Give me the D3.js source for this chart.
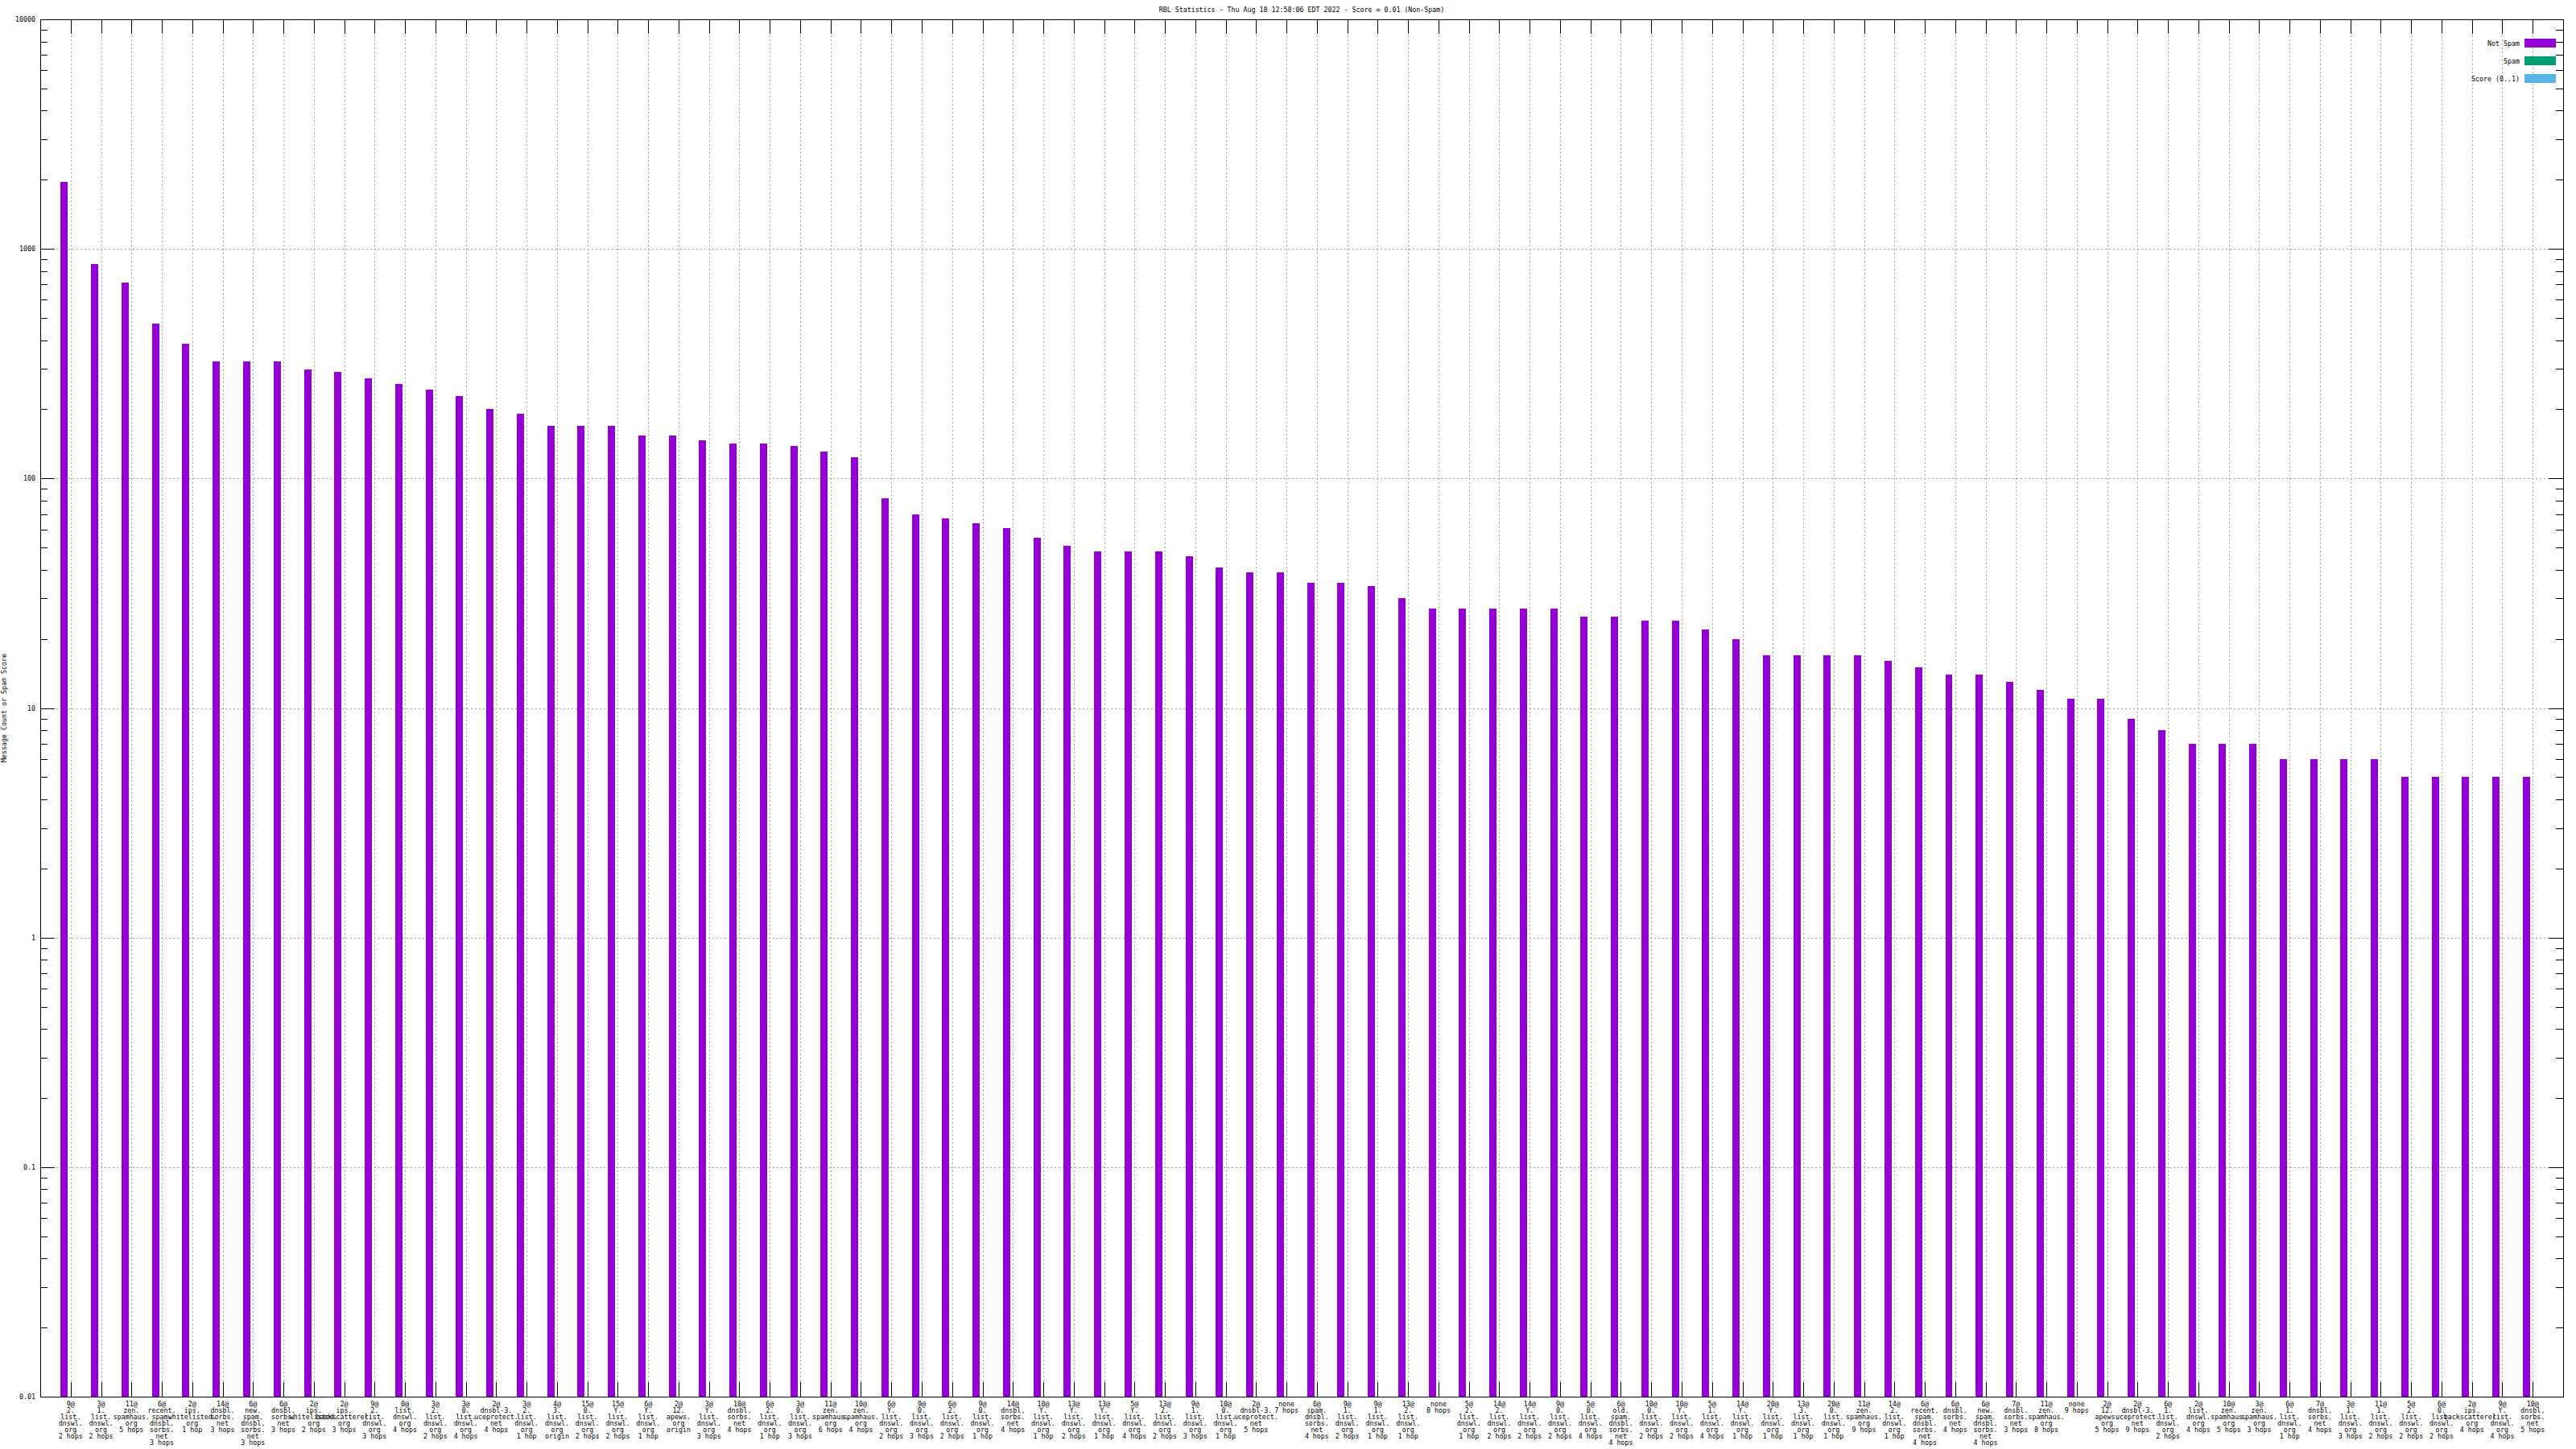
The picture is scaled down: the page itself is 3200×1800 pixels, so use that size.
<!DOCTYPE html>
<html>
<head>
<meta charset="utf-8">
<script src="https://cdn.jsdelivr.net/npm/d3@7"></script>
<style>
  html, body { margin: 0; padding: 0; background: #fff; }
  svg { display: block; }
  text { font-family: "DejaVu Sans Mono", monospace; font-size: 8.3px; fill: #000; }
</style>
</head>
<body>
<svg id="chart" width="3200" height="1800"></svg>
<script>
// ---------------- data ----------------
const title = "RBL Statistics - Thu Aug 18 12:58:06 EDT 2022 - Score = 0.01 (Non-Spam)";
const yAxisTitle = "Message Count or Spam Score";

const categories = [
  "9@2.list.dnswl.org 2 hops", "3@1.list.dnswl.org 2 hops", "11@zen.spamhaus.org 5 hops",
  "6@recent.spam.dnsbl.sorbs.net 3 hops", "2@ips.whitelisted.org 1 hop", "14@dnsbl.sorbs.net 3 hops",
  "6@new.spam.dnsbl.sorbs.net 3 hops", "6@dnsbl.sorbs.net 3 hops", "2@ips.whitelisted.org 2 hops",
  "2@ips.backscatterer.org 3 hops", "9@2.list.dnswl.org 3 hops", "0@list.dnswl.org 4 hops",
  "3@2.list.dnswl.org 2 hops", "3@0.list.dnswl.org 4 hops", "2@dnsbl-3.uceprotect.net 4 hops",
  "3@2.list.dnswl.org 1 hop", "4@3.list.dnswl.org origin", "15@0.list.dnswl.org 2 hops",
  "15@Y.list.dnswl.org 2 hops", "6@Y.list.dnswl.org 1 hop", "2@12.apews.org origin",
  "3@Y.list.dnswl.org 3 hops", "10@dnsbl.sorbs.net 4 hops", "6@2.list.dnswl.org 1 hop",
  "3@0.list.dnswl.org 3 hops", "11@zen.spamhaus.org 6 hops", "10@zen.spamhaus.org 4 hops",
  "6@Y.list.dnswl.org 2 hops", "9@0.list.dnswl.org 3 hops", "6@2.list.dnswl.org 2 hops",
  "9@0.list.dnswl.org 1 hop", "14@dnsbl.sorbs.net 4 hops", "10@Y.list.dnswl.org 1 hop",
  "13@Y.list.dnswl.org 2 hops", "13@Y.list.dnswl.org 1 hop", "5@Y.list.dnswl.org 4 hops",
  "13@2.list.dnswl.org 2 hops", "9@1.list.dnswl.org 3 hops", "10@0.list.dnswl.org 1 hop",
  "2@dnsbl-3.uceprotect.net 5 hops", "none 7 hops", "6@spam.dnsbl.sorbs.net 4 hops",
  "9@1.list.dnswl.org 2 hops", "9@1.list.dnswl.org 1 hop", "13@2.list.dnswl.org 1 hop",
  "none 8 hops", "5@2.list.dnswl.org 1 hop", "14@2.list.dnswl.org 2 hops",
  "14@Y.list.dnswl.org 2 hops", "9@0.list.dnswl.org 2 hops", "5@0.list.dnswl.org 4 hops",
  "6@old.spam.dnsbl.sorbs.net 4 hops", "10@0.list.dnswl.org 2 hops", "10@Y.list.dnswl.org 2 hops",
  "5@1.list.dnswl.org 4 hops", "14@Y.list.dnswl.org 1 hop", "20@Y.list.dnswl.org 1 hop",
  "13@3.list.dnswl.org 1 hop", "20@0.list.dnswl.org 1 hop", "11@zen.spamhaus.org 9 hops",
  "14@2.list.dnswl.org 1 hop", "6@recent.spam.dnsbl.sorbs.net 4 hops", "6@dnsbl.sorbs.net 4 hops",
  "6@new.spam.dnsbl.sorbs.net 4 hops", "7@dnsbl.sorbs.net 3 hops", "11@zen.spamhaus.org 8 hops",
  "none 9 hops", "2@12.apews.org 5 hops", "2@dnsbl-3.uceprotect.net 9 hops",
  "6@1.list.dnswl.org 2 hops", "2@list.dnswl.org 4 hops", "10@zen.spamhaus.org 5 hops",
  "3@zen.spamhaus.org 3 hops", "6@1.list.dnswl.org 1 hop", "7@dnsbl.sorbs.net 4 hops",
  "3@1.list.dnswl.org 3 hops", "11@1.list.dnswl.org 2 hops", "5@2.list.dnswl.org 2 hops",
  "6@0.list.dnswl.org 2 hops", "2@ips.backscatterer.org 4 hops", "9@Y.list.dnswl.org 4 hops",
  "10@dnsbl.sorbs.net 5 hops"
];

const notSpamCounts = [
  1958, 860, 713, 472, 387, 323, 323, 323, 298, 292,
  274, 257, 244, 229, 200, 191, 170, 170, 170, 154,
  154, 147, 142, 142, 139, 131, 124, 82, 70, 67,
  64, 61, 55, 51, 48, 48, 48, 46, 41, 39,
  39, 35, 35, 34, 30, 27, 27, 27, 27, 27,
  25, 25, 24, 24, 22, 20, 17, 17, 17, 17,
  16, 15, 14, 14, 13, 12, 11, 11, 9, 8,
  7, 7, 7, 6, 6, 6, 6, 5, 5, 5,
  5, 5
];

const seriesNames = ["Not Spam", "Spam", "Score (0..1)"];
const seriesColors = ["#9400d3", "#009e73", "#56b4e9"];

const yMajorTicks = [0.01, 0.1, 1, 10, 100, 1000, 10000];
const yTickLabels = ["0.01", "0.1", "1", "10", "100", "1000", "10000"];

// ---------------- layout ----------------
const W = 3200, H = 1800;
const pLeft = 50, pRight = 3184, pTop = 24, pBottom = 1735;

const svg = d3.select("#chart");
svg.append("rect").attr("width", W).attr("height", H).attr("fill", "#fff");

const x = d3.scaleLinear().domain([-1, categories.length]).range([pLeft, pRight]);
const y = d3.scaleLog().domain([0.01, 10000]).range([pBottom, pTop]);

const yMinorTicks = [];
for (let e = -2; e < 4; e++) {
  for (let m = 2; m <= 9; m++) yMinorTicks.push(m * Math.pow(10, e));
}
const idx = d3.range(categories.length);

// ---------------- grid ----------------
const grid = svg.append("g").attr("stroke", "#a0a0a0").attr("stroke-width", 1)
  .attr("stroke-dasharray", "2,3").attr("shape-rendering", "crispEdges");
grid.selectAll("line.v").data(idx).join("line").attr("class", "v")
  .attr("x1", d => Math.round(x(d)) + 0.5).attr("x2", d => Math.round(x(d)) + 0.5)
  .attr("y1", pTop).attr("y2", pBottom);
grid.selectAll("line.h").data(yMajorTicks.slice(1, -1)).join("line").attr("class", "h")
  .attr("x1", pLeft).attr("x2", pRight)
  .attr("y1", d => Math.round(y(d)) + 0.5).attr("y2", d => Math.round(y(d)) + 0.5);

// ---------------- bars ----------------
const barOffset = -0.326, barWidth = 0.238;
svg.append("g").selectAll("rect").data(notSpamCounts).join("rect")
  .attr("x", (d, i) => Math.round(x(i + barOffset)))
  .attr("width", (d, i) => Math.round(x(i + barOffset + barWidth)) - Math.round(x(i + barOffset)))
  .attr("y", d => Math.round(y(d)))
  .attr("height", d => pBottom - Math.round(y(d)))
  .attr("fill", seriesColors[0]);

// ---------------- axes ----------------
function styleAxis(g) {
  g.select(".domain").remove();
  g.selectAll("line").attr("stroke", "#000").attr("shape-rendering", "crispEdges");
  g.attr("font-family", null).attr("font-size", null);
}
const fmt = d => yTickLabels[yMajorTicks.indexOf(d)];
svg.append("g").attr("transform", `translate(${pLeft},0)`)
  .call(d3.axisLeft(y).tickValues(yMajorTicks).tickFormat(fmt).tickSize(-18).tickPadding(6))
  .call(styleAxis);
svg.append("g").attr("transform", `translate(${pLeft},0)`)
  .call(d3.axisLeft(y).tickValues(yMinorTicks).tickFormat("").tickSize(-9))
  .call(styleAxis);
svg.append("g").attr("transform", `translate(${pRight},0)`)
  .call(d3.axisRight(y).tickValues(yMajorTicks).tickFormat("").tickSize(-18))
  .call(styleAxis);
svg.append("g").attr("transform", `translate(${pRight},0)`)
  .call(d3.axisRight(y).tickValues(yMinorTicks).tickFormat("").tickSize(-9))
  .call(styleAxis);
svg.append("g").attr("transform", `translate(0,${pBottom})`)
  .call(d3.axisBottom(x).tickValues(idx).tickFormat("").tickSize(-18))
  .call(styleAxis);
svg.append("g").attr("transform", `translate(0,${pTop})`)
  .call(d3.axisTop(x).tickValues(idx).tickFormat("").tickSize(-18))
  .call(styleAxis);

// border
svg.append("rect").attr("x", pLeft + 0.5).attr("y", pTop + 0.5)
  .attr("width", pRight - pLeft).attr("height", pBottom - pTop)
  .attr("fill", "none").attr("stroke", "#000").attr("stroke-width", 1)
  .attr("shape-rendering", "crispEdges");

// ---------------- x labels (multi-line) ----------------
function splitLabel(s) {
  const sp = s.indexOf(" ");
  const host = s.slice(0, sp), hops = s.slice(sp + 1);
  if (host === "none") return [host, hops];
  const at = host.indexOf("@");
  const lines = [host.slice(0, at + 1)];
  const parts = host.slice(at + 1).split(".");
  parts.forEach((p, k) => lines.push(p + (k < parts.length - 1 ? "." : "")));
  lines.push(hops);
  return lines;
}
const xl = svg.append("g").attr("text-anchor", "middle");
categories.forEach((c, i) => {
  const t = xl.append("text").attr("x", x(i)).attr("y", pBottom + 12);
  splitLabel(c).forEach((ln, k) => {
    t.append("tspan").attr("x", x(i)).attr("y", pBottom + 12 + k * 8).text(ln);
  });
});

// ---------------- titles ----------------
svg.append("text").attr("x", (pLeft + pRight) / 2).attr("y", 15)
  .attr("text-anchor", "middle").text(title);
svg.append("text").attr("transform", `translate(8,${(pTop + pBottom) / 2}) rotate(-90)`)
  .attr("text-anchor", "middle").text(yAxisTitle);

// ---------------- legend ----------------
const lg = svg.append("g");
seriesNames.forEach((n, k) => {
  const cy = 53.5 + k * 22;
  lg.append("text").attr("x", 3130).attr("y", cy + 3).attr("text-anchor", "end").text(n);
  lg.append("rect").attr("x", 3136).attr("y", Math.round(cy - 5.5)).attr("width", 39).attr("height", 11)
    .attr("fill", seriesColors[k]);
});
</script>
</body>
</html>
